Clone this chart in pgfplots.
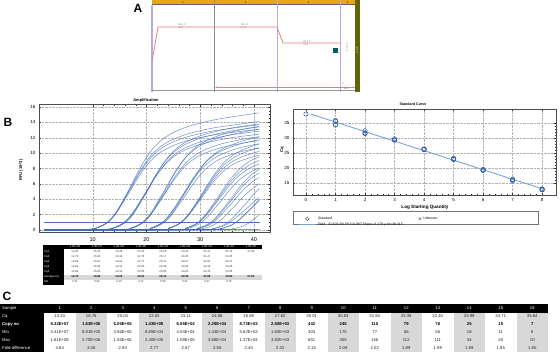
\documentclass[border=0pt]{standalone}
\usepackage{pgfplots}
\pgfplotsset{compat=1.18}
\usetikzlibrary{arrows.meta}
\usepackage{fontspec}
\setmainfont{Liberation Sans}
\definecolor{ampblue}{RGB}{62,105,185}
\definecolor{scline}{RGB}{125,162,212}
\definecolor{scmark}{RGB}{50,95,170}
\definecolor{gold}{RGB}{232,168,20}
\definecolor{endgreen}{RGB}{98,100,10}
\definecolor{lav}{RGB}{180,172,232}
\definecolor{pinkred}{RGB}{232,125,125}
\definecolor{cellgrey}{RGB}{216,216,216}
\newcommand\fs[1]{\fontsize{#1}{#1}\selectfont}
\tikzset{amp/.style={draw=ampblue,line width=0.55pt,draw opacity=0.7,smooth,mark=none,solid}}
\begin{document}
\begin{tikzpicture}
\path[use as bounding box] (0pt,0pt) rectangle (560pt,-354pt);
% ---------------- Panel A decorations ----------------
\begin{scope}[x=1pt,y=-1pt]
\node[font=\bfseries\fs{12}] at (138,8) {A};
\fill[gold] (152,0) rectangle (355,4.5);
\draw[black!60,line width=0.3pt] (152,4.5) -- (355,4.5);
\foreach \xx/\n in {183/1,245.5/2,308.5/3,347.5/4}
  \node[font=\fs{2.6},inner sep=0] at (\xx,2.3) {\n};
\draw[lav,line width=1.3pt] (152,4.5) -- (152,92);
\draw[black!45,line width=0.6pt] (214,0) -- (214,92);
\draw[lav,line width=0.8pt] (277,0) -- (277,92);
\draw[lav,line width=0.8pt] (340,0) -- (340,92);
\fill[endgreen] (355,0) rectangle (360,92);
\node[white,font=\fs{2.4},align=center,inner sep=0] at (357.5,50) {E\\N\\D};
\draw[black!40,line width=0.4pt] (152,90.5) -- (355,90.5);
\draw[pinkred,line width=0.8pt,{Latex[length=2pt,width=2pt]}-] (215,87.3) -- (355,87.3);
\node[black!55,font=\fs{2.5},align=left,inner sep=0] at (182,26) {95.0 C\\3:00};
\node[black!55,font=\fs{2.5},align=left,inner sep=0] at (245,26) {95.0 C\\0:15};
\node[black!55,font=\fs{2.5},align=left,inner sep=0] at (307,43) {63.0 C\\0:30};
\fill[teal!75!black] (333,48) rectangle (338,53);
\node[black!50,font=\fs{2.4},align=center,inner sep=0] at (347,47.5) {G\\O\\T\\O};
\node[black!60,font=\fs{2.4},inner sep=0] at (343,83.5) {2};
\node[black!60,font=\fs{2.4},inner sep=0] at (346,89) {45x};
% ---------------- Panel B labels ----------------
\node[font=\bfseries\fs{12}] at (8,122) {B};
\node[font=\bfseries\fs{4}] at (146,100) {Amplification};
\node[rotate=90,font=\bfseries\fs{4}] at (21,170) {RFU (10\textasciicircum 3)};
\node[font=\bfseries\fs{3.6}] at (413,104) {Standard Curve};
\node[rotate=90,font=\bfseries\fs{4.2}] at (282,150) {Cq};
\node[font=\bfseries\fs{4.6}] at (425,207.5) {Log Starting Quantity};
\draw[black!55,line width=0.4pt] (293,211.5) rectangle (538,224.5);
% ---------------- Cq table under amplification ----------------
\fill[black] (43,244.5) rectangle (262,248.6);
\fill[black] (43,244.5) rectangle (64,284.5);
\fill[cellgrey] (64,274.6) rectangle (262,279.6);
\foreach \h [count=\i] in {1.0E+08,1.0E+07,1.0E+06,1.0E+05,1.0E+04,1.0E+03,1.0E+02,1.0E+01,1.0E+00}
  \node[white,font=\fs{2.8},inner sep=0] at ({64+22*(\i-0.5)},246.6) {\h};
\foreach \lab/\yy in {Cq1/252,Cq2/257,Cq3/262,Cq4/267,Cq5/272,Average Cq/277,SD/282}
  \node[white,anchor=west,font=\fs{2.8},inner sep=0] at (44,\yy) {\lab};
\foreach \row/\yy in {{12.94,16.16,19.46,23.15,26.26,29.23,31.41,35.79,37.92}/252,
  {12.73,15.93,19.18,22.78,26.17,29.25,31.47,34.35}/257,
  {12.68,15.87,19.24,22.71,26.10,29.27,31.65,35.51}/262,
  {12.69,15.63,19.14,22.95,26.08,29.63,32.35,34.26}/267,
  {12.69,15.63,19.14,22.95,26.08,29.63,32.35,34.26}/272,
  {0.11,0.22,0.13,0.17,0.08,0.21,0.47,0.75}/282}
  \foreach \v [count=\i] in \row
    \node[black!80,font=\fs{2.8},inner sep=0] at ({64+22*(\i-0.5)},\yy) {\v};
\foreach \v [count=\i] in {12.75,15.84,19.23,22.91,26.14,29.40,31.85,34.83,37.92}
  \node[black,font=\bfseries\fs{2.8},inner sep=0] at ({64+22*(\i-0.5)},277) {\v};
% ---------------- Panel C table ----------------
\node[font=\bfseries\fs{12}] at (7,296) {C};
\fill[black] (0,304) rectangle (547.5,312.6);
\fill[black] (0,304) rectangle (44,352);
\foreach \i in {2,4,...,16}
  \fill[cellgrey] ({44+31.5*(\i-1)},312.6) rectangle ({44+31.5*\i},352);
\node[white,anchor=west,font=\fs{4.2},inner sep=0] at (2,308.3) {Sample};
\foreach \i in {1,...,16}
  \node[white,font=\fs{4.2},inner sep=0] at ({44+31.5*(\i-0.5)},308.3) {\i};
\foreach \lab/\yy in {Cq/316.5,Min/332.1,Max/339.9,Fold-difference/347.7}
  \node[white,anchor=west,font=\fs{4.2},inner sep=0] at (2,\yy) {\lab};
\node[white,anchor=west,font=\bfseries\fs{4.2},inner sep=0] at (2,324.3) {Copy no};
\foreach \row/\yy in {{13.24,18.76,20.04,22.03,23.11,24.56,25.89,27.62,30.01,30.83,31.94,32.39,32.40,33.99,34.71,35.64}/316.5,
  {4.41E+07,8.81E+05,3.56E+05,8.65E+04,4.04E+04,1.44E+04,5.62E+03,1.65E+03,303,170,77,56,56,18,11,6}/332.1,
  {1.61E+08,2.70E+06,1.05E+06,2.40E+05,1.08E+05,3.68E+04,1.37E+04,3.82E+03,651,355,156,112,111,34,20,10}/339.9,
  {3.64,3.06,2.94,2.77,2.67,2.55,2.45,2.32,2.15,2.09,2.02,1.99,1.99,1.89,1.85,1.80}/347.7}
  \foreach \v [count=\i] in \row
    \node[black!85,font=\fs{4.2},inner sep=0] at ({44+31.5*(\i-0.5)},\yy) {\v};
\foreach \v [count=\i] in {8.32E+07,1.53E+06,6.05E+05,1.43E+05,6.55E+04,2.29E+04,8.73E+03,2.50E+03,442,245,110,79,78,25,15,7}
  \node[black,font=\bfseries\fs{4.2},inner sep=0] at ({44+31.5*(\i-0.5)},324.3) {\v};
\end{scope}
% ---------------- Panel A temperature profile ----------------
\begin{axis}[at={(152pt,-92pt)},anchor=south west,scale only axis,width=208pt,height=92pt,
  xmin=152,xmax=360,ymin=-35,ymax=149,hide axis,clip=false]
\addplot[pinkred,line width=0.8pt] coordinates {(152,25) (158,95) (277,95) (283,63) (340,63)};
\end{axis}
% ---------------- Amplification ----------------
\begin{axis}[at={(39pt,-232.3pt)},anchor=south west,scale only axis,width=231pt,height=127.7pt,
  xmin=0,xmax=43,ymin=-0.3,ymax=16.3,
  xtick={10,20,30,40},ytick={0,2,...,16},minor x tick num=4,minor y tick num=3,
  grid=major,major grid style={densely dotted,black!30,line width=0.3pt},
  axis line style={black!70,line width=0.4pt},tick style={black!80,line width=0.3pt},
  major tick length=2pt,minor tick length=1.2pt,
  /pgf/number format/assume math mode=true,
  xticklabel style={font=\fs{5.5},yshift=-1.5pt},yticklabel style={font=\fs{4.6}}]
\addplot[amp] coordinates {(1,0.08) (41,0.08)};
\addplot[amp,draw opacity=0.95] coordinates {(1,1.02) (41,1.02)};
\addplot[amp] coordinates {(1,0.02)(8.94,0.05)(10.94,0.30)(11.94,0.63)(12.94,1.08)(13.94,1.84)(14.94,2.92)(15.94,4.21)(16.94,5.51)(18.94,8.21)(20.94,10.37)(22.94,11.77)(24.94,12.64)(27.94,13.50)(32.94,14.36)(41,15.23)};
\addplot[amp] coordinates {(1,0.02)(8.73,0.05)(10.73,0.28)(11.73,0.58)(12.73,1.0)(13.73,1.7)(14.73,2.7)(15.73,3.9)(16.73,5.1)(18.73,7.6)(20.73,9.6)(22.73,10.9)(24.73,11.7)(27.73,12.5)(32.73,13.3)(41,14.1)};
\addplot[amp] coordinates {(1,0.02)(8.68,0.05)(10.68,0.27)(11.68,0.56)(12.68,0.97)(13.68,1.65)(14.68,2.62)(15.68,3.78)(16.68,4.95)(18.68,7.37)(20.68,9.31)(22.68,10.57)(24.68,11.35)(27.68,12.13)(32.68,12.90)(41,13.68)};
\addplot[amp] coordinates {(1,0.02)(8.69,0.05)(10.69,0.26)(11.69,0.54)(12.69,0.93)(13.69,1.58)(14.69,2.51)(15.69,3.63)(16.69,4.74)(18.69,7.07)(20.69,8.93)(22.69,10.14)(24.69,10.88)(27.69,11.63)(32.69,12.37)(41,13.11)};
\addplot[amp] coordinates {(1,0.02)(12.16,0.05)(14.16,0.28)(15.16,0.58)(16.16,1.0)(17.16,1.7)(18.16,2.7)(19.16,3.9)(20.16,5.1)(22.16,7.6)(24.16,9.6)(26.16,10.9)(28.16,11.7)(31.16,12.5)(36.16,13.3)(41,13.78)};
\addplot[amp] coordinates {(1,0.02)(11.93,0.05)(13.93,0.27)(14.93,0.56)(15.93,0.97)(16.93,1.65)(17.93,2.62)(18.93,3.78)(19.93,4.95)(21.93,7.37)(23.93,9.31)(25.93,10.57)(27.93,11.35)(30.93,12.13)(35.93,12.90)(41,13.39)};
\addplot[amp] coordinates {(1,0.02)(11.87,0.05)(13.87,0.26)(14.87,0.54)(15.87,0.93)(16.87,1.58)(17.87,2.51)(18.87,3.63)(19.87,4.74)(21.87,7.07)(23.87,8.93)(25.87,10.14)(27.87,10.88)(30.87,11.63)(35.87,12.37)(41,12.84)};
\addplot[amp] coordinates {(1,0.02)(11.63,0.05)(13.63,0.25)(14.63,0.52)(15.63,0.90)(16.63,1.53)(17.63,2.43)(18.63,3.51)(19.63,4.59)(21.63,6.84)(23.63,8.64)(25.63,9.81)(27.63,10.53)(30.63,11.25)(35.63,11.97)(41,12.45)};
\addplot[amp] coordinates {(1,0.02)(15.46,0.05)(17.46,0.28)(18.46,0.58)(19.46,1.0)(20.46,1.7)(21.46,2.7)(22.46,3.9)(23.46,5.1)(25.46,7.6)(27.46,9.6)(29.46,10.9)(31.46,11.7)(34.46,12.5)(39.46,13.3)(41,13.45)};
\addplot[amp] coordinates {(1,0.02)(15.18,0.05)(17.18,0.27)(18.18,0.56)(19.18,0.97)(20.18,1.65)(21.18,2.62)(22.18,3.78)(23.18,4.95)(25.18,7.37)(27.18,9.31)(29.18,10.57)(31.18,11.35)(34.18,12.13)(39.18,12.90)(41,13.08)};
\addplot[amp] coordinates {(1,0.02)(15.24,0.05)(17.24,0.25)(18.24,0.52)(19.24,0.90)(20.24,1.53)(21.24,2.43)(22.24,3.51)(23.24,4.59)(25.24,6.84)(27.24,8.64)(29.24,9.81)(31.24,10.53)(34.24,11.25)(39.24,11.97)(41,12.13)};
\addplot[amp] coordinates {(1,0.02)(15.14,0.04)(17.14,0.24)(18.14,0.50)(19.14,0.86)(20.14,1.46)(21.14,2.32)(22.14,3.35)(23.14,4.39)(25.14,6.54)(27.14,8.26)(29.14,9.37)(31.14,10.06)(34.14,10.75)(39.14,11.44)(41,11.60)};
\addplot[amp] coordinates {(1,0.02)(19.15,0.05)(21.15,0.26)(22.15,0.54)(23.15,0.93)(24.15,1.58)(25.15,2.51)(26.15,3.63)(27.15,4.74)(29.15,7.07)(31.15,8.93)(33.15,10.14)(35.15,10.88)(38.15,11.63)(41,12.07)};
\addplot[amp] coordinates {(1,0.02)(18.78,0.05)(20.78,0.25)(21.78,0.52)(22.78,0.90)(23.78,1.53)(24.78,2.43)(25.78,3.51)(26.78,4.59)(28.78,6.84)(30.78,8.64)(32.78,9.81)(34.78,10.53)(37.78,11.25)(41,11.73)};
\addplot[amp] coordinates {(1,0.02)(18.71,0.04)(20.71,0.24)(21.71,0.50)(22.71,0.86)(23.71,1.46)(24.71,2.32)(25.71,3.35)(26.71,4.39)(28.71,6.54)(30.71,8.26)(32.71,9.37)(34.71,10.06)(37.71,10.75)(41,11.21)};
\addplot[amp] coordinates {(1,0.02)(18.95,0.04)(20.95,0.23)(21.95,0.48)(22.95,0.82)(23.95,1.39)(24.95,2.21)(25.95,3.20)(26.95,4.18)(28.95,6.23)(30.95,7.87)(32.95,8.94)(34.95,9.59)(37.95,10.25)(41,10.66)};
\addplot[amp] coordinates {(1,0.02)(22.26,0.05)(24.26,0.25)(25.26,0.52)(26.26,0.90)(27.26,1.53)(28.26,2.43)(29.26,3.51)(30.26,4.59)(32.26,6.84)(34.26,8.64)(36.26,9.81)(38.26,10.53)(41,11.19)};
\addplot[amp] coordinates {(1,0.02)(22.17,0.04)(24.17,0.24)(25.17,0.50)(26.17,0.86)(27.17,1.46)(28.17,2.32)(29.17,3.35)(30.17,4.39)(32.17,6.54)(34.17,8.26)(36.17,9.37)(38.17,10.06)(41,10.71)};
\addplot[amp] coordinates {(1,0.02)(22.10,0.04)(24.10,0.23)(25.10,0.48)(26.10,0.82)(27.10,1.39)(28.10,2.21)(29.10,3.20)(30.10,4.18)(32.10,6.23)(34.10,7.87)(36.10,8.94)(38.10,9.59)(41,10.23)};
\addplot[amp] coordinates {(1,0.02)(22.08,0.04)(24.08,0.22)(25.08,0.45)(26.08,0.78)(27.08,1.33)(28.08,2.11)(29.08,3.04)(30.08,3.98)(32.08,5.93)(34.08,7.49)(36.08,8.50)(38.08,9.13)(41,9.73)};
\addplot[amp] coordinates {(1,0.02)(25.23,0.04)(27.23,0.23)(28.23,0.48)(29.23,0.82)(30.23,1.39)(31.23,2.21)(32.23,3.20)(33.23,4.18)(35.23,6.23)(37.23,7.87)(39.23,8.94)(41,9.52)};
\addplot[amp] coordinates {(1,0.02)(25.25,0.04)(27.25,0.22)(28.25,0.45)(29.25,0.78)(30.25,1.33)(31.25,2.11)(32.25,3.04)(33.25,3.98)(35.25,5.93)(37.25,7.49)(39.25,8.50)(41,9.05)};
\addplot[amp] coordinates {(1,0.02)(25.27,0.04)(27.27,0.21)(28.27,0.43)(29.27,0.74)(30.27,1.26)(31.27,2.00)(32.27,2.89)(33.27,3.77)(35.27,5.62)(37.27,7.10)(39.27,8.07)(41,8.58)};
\addplot[amp] coordinates {(1,0.02)(25.63,0.04)(27.63,0.20)(28.63,0.41)(29.63,0.70)(30.63,1.19)(31.63,1.89)(32.63,2.73)(33.63,3.57)(35.63,5.32)(37.63,6.72)(39.63,7.63)(41,8.04)};
\addplot[amp] coordinates {(1,0.02)(27.41,0.04)(29.41,0.21)(30.41,0.43)(31.41,0.74)(32.41,1.26)(33.41,2.00)(34.41,2.89)(35.41,3.77)(37.41,5.62)(39.41,7.10)(41,7.88)};
\addplot[amp] coordinates {(1,0.02)(27.47,0.04)(29.47,0.20)(30.47,0.41)(31.47,0.70)(32.47,1.19)(33.47,1.89)(34.47,2.73)(35.47,3.57)(37.47,5.32)(39.47,6.72)(41,7.42)};
\addplot[amp] coordinates {(1,0.02)(27.65,0.03)(29.65,0.18)(30.65,0.38)(31.65,0.65)(32.65,1.11)(33.65,1.76)(34.65,2.54)(35.65,3.32)(37.65,4.94)(39.65,6.24)(41,6.83)};
\addplot[amp] coordinates {(1,0.02)(28.35,0.03)(30.35,0.17)(31.35,0.35)(32.35,0.60)(33.35,1.02)(34.35,1.62)(35.35,2.34)(36.35,3.06)(38.35,4.56)(41,6.03)};
\addplot[amp] coordinates {(1,0.02)(30.26,0.03)(32.26,0.14)(33.26,0.29)(34.26,0.50)(35.26,0.85)(36.26,1.35)(37.26,1.95)(38.26,2.55)(40.26,3.80)(41,4.20)};
\addplot[amp] coordinates {(1,0.02)(30.35,0.03)(32.35,0.18)(33.35,0.38)(34.35,0.65)(35.35,1.11)(36.35,1.76)(37.35,2.54)(38.35,3.32)(40.35,4.94)(41,5.40)};
\addplot[amp] coordinates {(1,0.02)(31.51,0.03)(33.51,0.15)(34.51,0.32)(35.51,0.55)(36.51,0.94)(37.51,1.49)(38.51,2.15)(39.51,2.81)(41,3.85)};
\addplot[amp] coordinates {(1,0.02)(31.79,0.03)(33.79,0.17)(34.79,0.35)(35.79,0.60)(36.79,1.02)(37.79,1.62)(38.79,2.34)(39.79,3.06)(41,3.99)};
\addplot[amp] coordinates {(1,0.02)(33.92,0.03)(35.92,0.14)(36.92,0.29)(37.92,0.50)(38.92,0.85)(39.92,1.35)(41,2.0)};
\end{axis}
% ---------------- Standard curve ----------------
\begin{axis}[at={(293pt,-195pt)},anchor=south west,scale only axis,width=263pt,height=86pt,
  xmin=-0.44,xmax=8.47,ymin=10.9,ymax=39.6,
  xtick={0,...,8},ytick={15,20,...,35},minor x tick num=4,minor y tick num=4,
  grid=major,major grid style={densely dotted,black!30,line width=0.3pt},
  axis line style={black!70,line width=0.4pt},tick style={black!80,line width=0.3pt},
  major tick length=2pt,minor tick length=1.2pt,
  /pgf/number format/assume math mode=true,
  tick label style={font=\fs{4.5}},
  legend style={at={(0.008,-0.2035)},anchor=north west,draw=none,fill=none,
    font=\fs{3.4},legend columns=2,row sep=-2pt,
    /tikz/every even column/.append style={column sep=14pt}},
  legend cell align=left]
\addplot[scline,line width=0.9pt,forget plot] coordinates {(0.17,37.88) (8,12.98)};
\addplot[only marks,mark=o,mark size=2.2pt,scmark,line width=0.5pt,forget plot] coordinates {
(0,37.92)
(1,35.79)(1,34.35)(1,35.51)(1,34.26)
(2,31.41)(2,31.47)(2,31.65)(2,32.35)
(3,29.23)(3,29.25)(3,29.27)(3,29.63)
(4,26.26)(4,26.17)(4,26.10)(4,26.08)
(5,23.15)(5,22.78)(5,22.71)(5,22.95)
(6,19.46)(6,19.18)(6,19.24)(6,19.14)
(7,16.16)(7,15.93)(7,15.87)(7,15.63)
(8,12.94)(8,12.73)(8,12.68)(8,12.69)};
\addlegendimage{only marks,mark=o,mark size=1.8pt,black!70}
\addlegendentry{Standard}
\addlegendimage{only marks,mark=x,mark size=1.8pt,black!70}
\addlegendentry{Unknown}
\addlegendimage{scline,line width=0.8pt}
\addlegendentry{FAM\quad E=106.3\% R\textasciicircum 2=0.997 Slope=-3.179 y-int=38.415}
\end{axis}
\end{tikzpicture}
\end{document}
